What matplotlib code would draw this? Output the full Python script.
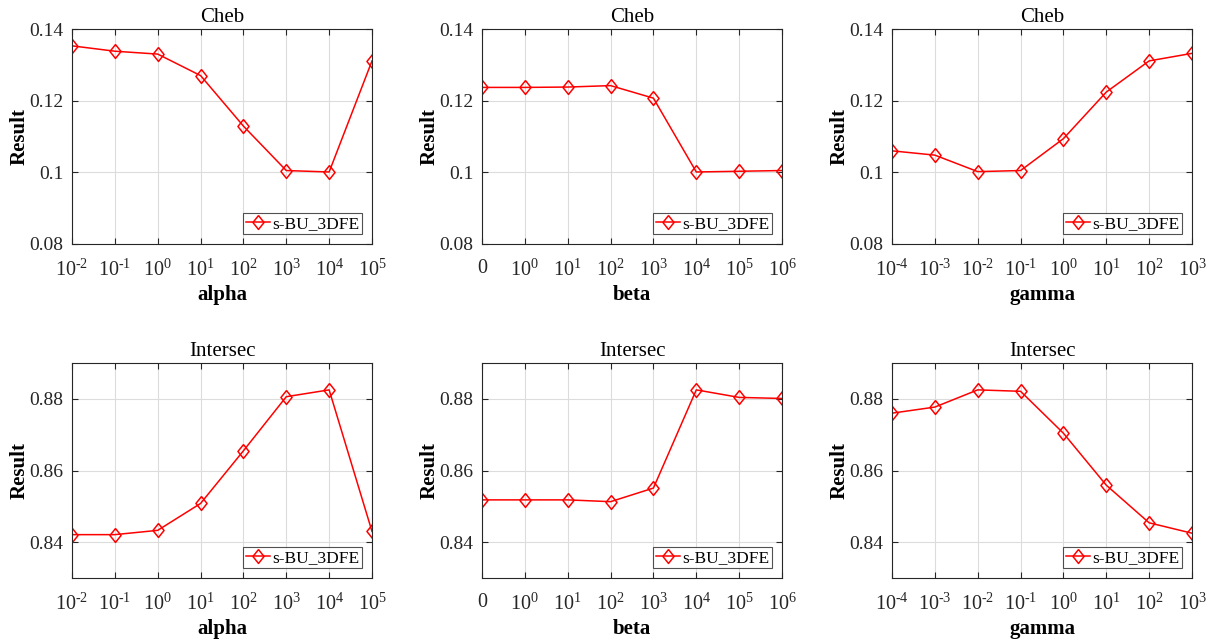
import numpy as np
import matplotlib
matplotlib.use('Agg')
import matplotlib.pyplot as plt

plt.rcParams['font.family'] = 'Liberation Serif'
plt.rcParams['mathtext.fontset'] = 'custom'
plt.rcParams['mathtext.rm'] = 'Liberation Serif'
plt.rcParams['mathtext.it'] = 'Liberation Serif:italic'
plt.rcParams['mathtext.bf'] = 'Liberation Serif:bold'

# Tick labels for each parameter
alpha_ticks = [r'$10^{\text{-}2}$', r'$10^{\text{-}1}$', '$10^{0}$', '$10^{1}$', '$10^{2}$', '$10^{3}$', '$10^{4}$', '$10^{5}$']
beta_ticks = ['0', '$10^{0}$', '$10^{1}$', '$10^{2}$', '$10^{3}$', '$10^{4}$', '$10^{5}$', '$10^{6}$']
gamma_ticks = [r'$10^{\text{-}4}$', r'$10^{\text{-}3}$', r'$10^{\text{-}2}$', r'$10^{\text{-}1}$', '$10^{0}$', '$10^{1}$', '$10^{2}$', '$10^{3}$']

# Cheb results
cheb_alpha = [0.1353, 0.1338, 0.1330, 0.1270, 0.1129, 0.1005, 0.1001, 0.1311]
cheb_beta = [0.1237, 0.1237, 0.1238, 0.1242, 0.1207, 0.1001, 0.1003, 0.1005]
cheb_gamma = [0.1060, 0.1048, 0.1002, 0.1005, 0.1094, 0.1224, 0.1311, 0.1332]

# Intersec results
inter_alpha = [0.8421, 0.8421, 0.8433, 0.8508, 0.8655, 0.8806, 0.8825, 0.8430]
inter_beta = [0.8518, 0.8518, 0.8518, 0.8513, 0.8551, 0.8825, 0.8804, 0.8801]
inter_gamma = [0.8760, 0.8777, 0.8825, 0.8821, 0.8704, 0.8559, 0.8454, 0.8425]

params = ['alpha', 'beta', 'gamma']
tick_sets = [alpha_ticks, beta_ticks, gamma_ticks]
rows = [('Cheb', [cheb_alpha, cheb_beta, cheb_gamma], (0.08, 0.14), [0.08, 0.1, 0.12, 0.14]),
        ('Intersec', [inter_alpha, inter_beta, inter_gamma], (0.83, 0.89), [0.84, 0.86, 0.88])]

# matlab-like diamond
diamond = [(0, 1), (0.8, 0), (0, -1), (-0.8, 0), (0, 1)]

fig = plt.figure(figsize=(12.1, 6.42), dpi=100)
W, H = 1210.0, 642.0
lefts = [72, 482, 892]
tops = [29, 363]
aw, ah = 300, 215

for r, (title, series, ylim, yticks) in enumerate(rows):
    for c in range(3):
        ax = fig.add_axes([lefts[c]/W, 1 - (tops[r]+ah)/H, aw/W, ah/H])
        x = np.arange(len(series[c]))
        ax.plot(x, series[c], color='red', marker=diamond, markerfacecolor='none',
                markersize=10, markeredgewidth=1.1, linewidth=1.1, label='s-BU_3DFE')
        ax.set_xlim(0, 7)
        ax.set_ylim(*ylim)
        ax.set_xticks(x)
        ax.set_xticklabels(tick_sets[c])
        ax.set_yticks(yticks)
        ax.set_yticklabels(['%g' % v for v in yticks])
        ax.grid(True, color='#dcdcdc', linewidth=0.8)
        ax.set_axisbelow(True)
        ax.tick_params(direction='in', top=True, right=True, labelsize=14,
                       colors='#262626', length=4)
        ax.tick_params(axis='x', pad=11, labelsize=14.5)
        ax.tick_params(axis='y', pad=6)
        for s in ax.spines.values():
            s.set_color('#262626')
            s.set_linewidth(0.8)
        ax.set_title(title, fontsize=15, pad=5)
        ax.set_xlabel(params[c], fontsize=15, fontweight='bold', labelpad=3)
        ax.set_ylabel('Result', fontsize=15, fontweight='bold', labelpad=0)
        leg = ax.legend(loc='lower right', fontsize=12.5, fancybox=False,
                        handlelength=1.4, handletextpad=0.15, borderpad=0.15,
                        borderaxespad=0.55)
        leg.get_frame().set_edgecolor('#262626')
        leg.get_frame().set_linewidth(0.8)

fig.savefig('out.png', dpi=100)
